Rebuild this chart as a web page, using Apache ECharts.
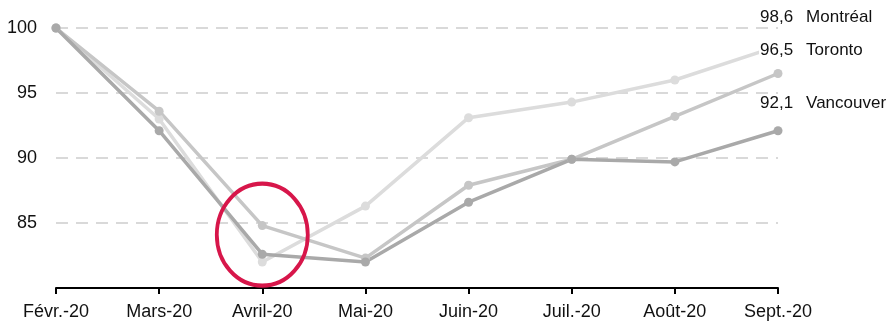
<!DOCTYPE html>
<html>
<head>
<meta charset="utf-8">
<script src="https://cdn.jsdelivr.net/npm/echarts@6/dist/echarts.min.js"></script>
<style>
  html, body { margin: 0; padding: 0; background: #fff; }
  #chart { width: 894px; height: 323px; }
</style>
</head>
<body>
<div id="chart"></div>
<script>
// mois (axe x)
const months = ['Févr.-20', 'Mars-20', 'Avril-20', 'Mai-20', 'Juin-20', 'Juil.-20', 'Août-20', 'Sept.-20'];

// valeurs
const montreal = [100, 93.0, 82.0, 86.3, 93.1, 94.3, 96.0, 98.6];
const toronto = [100, 93.6, 84.8, 82.3, 87.9, 89.9, 93.2, 96.5];
const vancouver = [100, 92.1, 82.6, 82.0, 86.6, 89.9, 89.7, 92.1];

const yTicks = [85, 90, 95, 100];

const chart = echarts.init(document.getElementById('chart'));

function endLabel(name, dy) {
  return {
    show: true,
    position: 'inside',
    align: 'left',
    verticalAlign: 'middle',
    offset: [-19, dy],
    backgroundColor: '#fff',
    padding: [1, 2, 1, 1],
    formatter: (p) => '{v|' + String(p.value).replace('.', ',') + '}{n|' + name + '}',
    rich: {
      v: { fontSize: 17, color: '#111', fontFamily: 'Liberation Sans' },
      n: { fontSize: 17, color: '#111', fontFamily: 'Liberation Sans', padding: [0, 0, 0, 13] }
    }
  };
}

function makeSeries(name, data, color, dy) {
  return {
    name: name,
    type: 'line',
    data: data.map((v, i) => i === data.length - 1 ? { value: v, label: endLabel(name, dy) } : v),
    symbol: 'circle',
    symbolSize: 9,
    showSymbol: true,
    lineStyle: { width: 3.5, color: color },
    itemStyle: { color: color },
    label: { show: false },
    emphasis: { disabled: true },
    animation: false
  };
}

const series = [
  makeSeries('Montréal', montreal, '#dcdcdc', -29),
  makeSeries('Toronto', toronto, '#c6c6c6', -23),
  makeSeries('Vancouver', vancouver, '#a9a9a9', -27)
];

// cercle rouge autour d'avril
series[2].markPoint = {
  symbol: 'circle',
  symbolSize: [91, 102],
  silent: true,
  label: { show: false },
  itemStyle: { color: 'rgba(0,0,0,0)', borderColor: '#d7164a', borderWidth: 4 },
  data: [{ coord: ['Avril-20', 84.1] }],
  z: 10
};

chart.setOption({
  animation: false,
  grid: { left: 56, right: 116, top: 28, bottom: 35 },
  xAxis: {
    type: 'category',
    data: months,
    boundaryGap: false,
    axisLine: { lineStyle: { color: '#000', width: 2 } },
    axisTick: { show: true, length: 6, lineStyle: { color: '#000', width: 2 } },
    axisLabel: { color: '#111', fontSize: 18, fontFamily: 'Liberation Sans', margin: 15 },
    splitLine: { show: false }
  },
  yAxis: {
    type: 'value',
    min: 80,
    max: 100,
    interval: 5,
    axisLine: { show: false },
    axisTick: { show: false },
    axisLabel: {
      color: '#111', fontSize: 18, fontFamily: 'Liberation Sans', margin: 19,
      formatter: (v) => yTicks.includes(v) ? String(v) : ''
    },
    splitLine: { lineStyle: { color: '#d9d9d9', width: 2, type: [12, 8] } }
  },
  series: series
});
</script>
</body>
</html>
